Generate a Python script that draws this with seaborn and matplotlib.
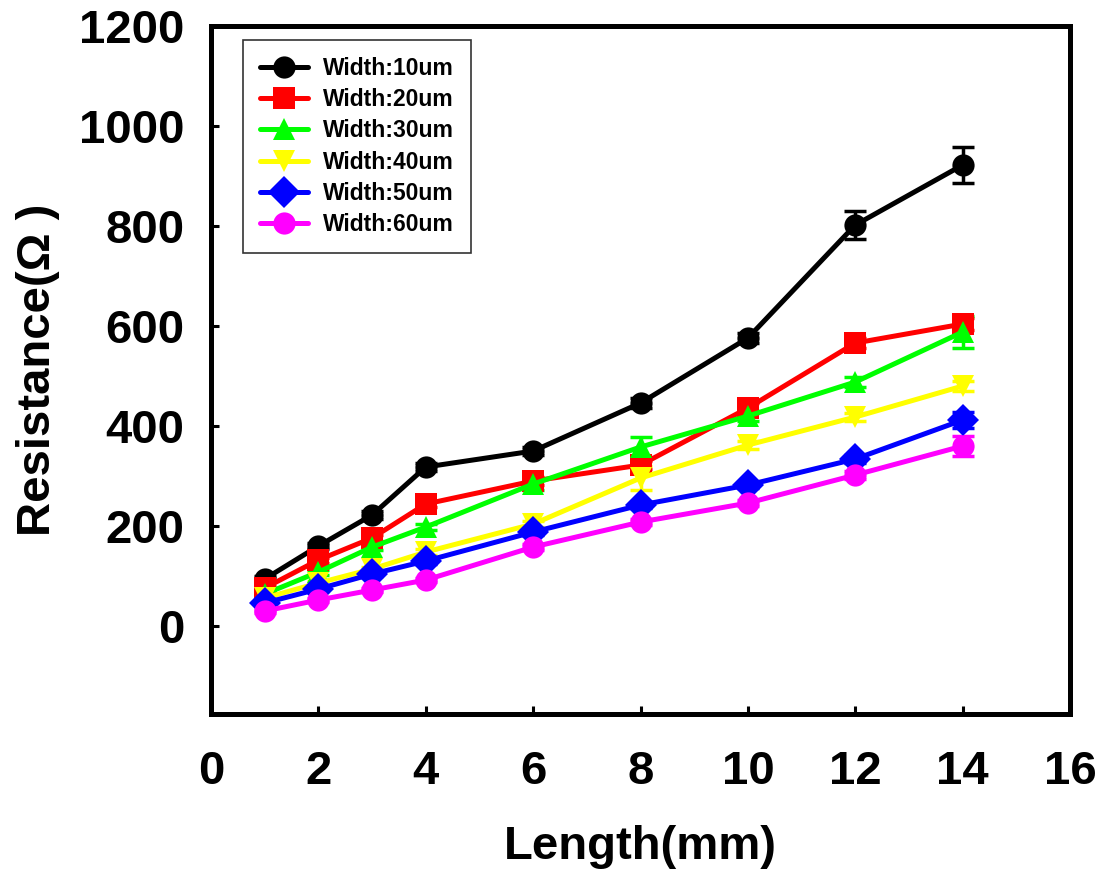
import matplotlib
matplotlib.use("Agg")
import matplotlib.pyplot as plt
import seaborn as sns
import pandas as pd
import numpy as np

lengths = [1, 2, 3, 4, 6, 8, 10, 12, 14]
w10 = [94, 160, 222, 318, 350, 446, 576, 802, 922]
w20 = [76, 132, 176, 244, 290, 322, 436, 566, 604]
w30 = [64, 108, 158, 198, 284, 358, 420, 488, 588]
w40 = [56, 86, 114, 148, 204, 296, 362, 418, 480]
w50 = [46, 74, 104, 130, 188, 242, 282, 334, 412]
w60 = [30, 52, 72, 92, 158, 208, 246, 302, 360]

e10 = [6, 6, 8, 8, 8, 10, 10, 28, 36]
e20 = [5, 5, 6, 6, 8, 8, 10, 10, 12]
e30 = [4, 5, 6, 6, 12, 20, 10, 10, 32]
e40 = [4, 5, 5, 6, 6, 24, 8, 8, 10]
e50 = [3, 4, 4, 5, 6, 6, 6, 8, 16]
e60 = [3, 4, 4, 4, 6, 6, 6, 8, 20]

labels = ["Width:10um", "Width:20um", "Width:30um", "Width:40um", "Width:50um", "Width:60um"]
series = [w10, w20, w30, w40, w50, w60]
errors = [e10, e20, e30, e40, e50, e60]
colors = ["#000000", "#ff0000", "#00ff00", "#ffff00", "#0000ff", "#ff00ff"]
markers = ["o", "s", "^", "v", "D", "o"]

rows = []
for lab, vals, errs in zip(labels, series, errors):
    for x, v, e in zip(lengths, vals, errs):
        rows.append({"Length": x, "R": v, "err": e, "Width": lab})
df = pd.DataFrame(rows)

sns.set_style("ticks")
plt.rcParams["font.family"] = ["Liberation Sans", "DejaVu Sans"]
plt.rcParams["font.weight"] = "bold"
plt.rcParams["text.color"] = "black"
plt.rcParams["axes.labelcolor"] = "black"
plt.rcParams["xtick.color"] = "black"
plt.rcParams["ytick.color"] = "black"

fig = plt.figure(figsize=(11.07, 8.73), dpi=100)
ax = fig.add_axes([0.1906, 0.1821, 0.7760, 0.7881])

for lab, col in zip(labels, colors):
    sub = df[df["Width"] == lab]
    ax.errorbar(sub["Length"], sub["R"], yerr=sub["err"], fmt="none",
                ecolor=col, elinewidth=2.5, capsize=8, capthick=2.5, zorder=3)

sns.lineplot(data=df, x="Length", y="R", hue="Width", style="Width",
             hue_order=labels, style_order=labels,
             palette=colors, markers=markers, dashes=False,
             markersize=16, linewidth=3.6, markeredgewidth=0, ax=ax, zorder=4)

handles, labs = ax.get_legend_handles_labels()
if ax.get_legend() is not None:
    ax.get_legend().remove()
leg = ax.legend(handles, labs, loc="upper left", bbox_to_anchor=(0.037, 0.98),
                frameon=True, fancybox=False, edgecolor="black",
                prop={"weight": "bold", "size": 16.5}, handlelength=2.1,
                labelspacing=0.36, borderpad=0.75, handletextpad=0.65,
                borderaxespad=0)
leg.get_frame().set_linewidth(1.2)
for h in leg.legend_handles:
    h.set_markersize(16)
    h.set_linewidth(3.6)
for t in leg.get_texts():
    t.set_color("black")

ax.set_xlim(0, 16)
ax.set_ylim(-176, 1200)
ax.set_xticks(np.arange(0, 17, 2))
ax.set_yticks(np.arange(0, 1201, 200))

for sp in ax.spines.values():
    sp.set_linewidth(3.6)
    sp.set_visible(True)
    sp.set_color("black")

ax.tick_params(axis="both", direction="in", length=6, width=2.2,
               labelsize=34, top=False, right=False, colors="black")
ax.tick_params(axis="x", pad=26)
ax.tick_params(axis="y", pad=19)
for t in ax.get_xticklabels() + ax.get_yticklabels():
    t.set_fontweight("bold")

ax.set_xlabel("Length(mm)", fontsize=34, fontweight="bold", labelpad=22, color="black")
ax.set_ylabel("Resistance(Ω )", fontsize=34, fontweight="bold", labelpad=14, color="black")

fig.savefig("out.png", dpi=100)
